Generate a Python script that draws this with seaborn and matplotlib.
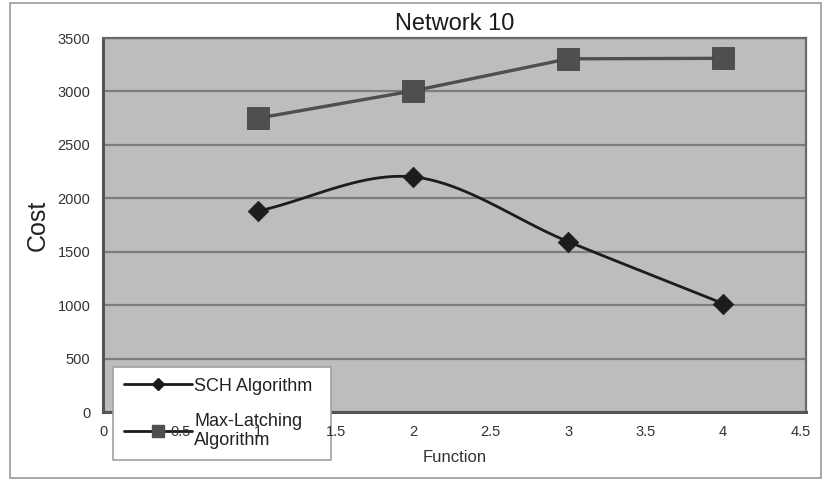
import numpy as np
import pandas as pd
import matplotlib
matplotlib.use("Agg")
import matplotlib.pyplot as plt
from matplotlib.patches import Rectangle
from matplotlib.lines import Line2D
import seaborn as sns

# Data
functions = [1, 2, 3, 4]
sch_cost = [1880, 2200, 1595, 1015]
maxlatch_cost = [2750, 3005, 3305, 3310]
series_names = ["SCH Algorithm", "Max-Latching\nAlgorithm"]
x_ticks = [0, 0.5, 1, 1.5, 2, 2.5, 3, 3.5, 4, 4.5]
y_ticks = [0, 500, 1000, 1500, 2000, 2500, 3000, 3500]


def smooth_curve(xs, ys, n=40):
    """Catmull-Rom style smoothing through the given points."""
    xs = np.asarray(xs, float)
    ys = np.asarray(ys, float)
    px = np.concatenate([[2 * xs[0] - xs[1]], xs, [2 * xs[-1] - xs[-2]]])
    py = np.concatenate([[2 * ys[0] - ys[1]], ys, [2 * ys[-1] - ys[-2]]])
    out_x, out_y = [], []
    t = np.linspace(0, 1, n)
    for i in range(1, len(px) - 2):
        p0, p1, p2, p3 = (np.array([px[j], py[j]]) for j in range(i - 1, i + 3))
        c1 = p1 + (p2 - p0) / 6
        c2 = p2 - (p3 - p1) / 6
        pts = ((1 - t) ** 3)[:, None] * p1 + (3 * (1 - t) ** 2 * t)[:, None] * c1 \
            + (3 * (1 - t) * t ** 2)[:, None] * c2 + (t ** 3)[:, None] * p2
        out_x.extend(pts[:, 0])
        out_y.extend(pts[:, 1])
    return np.array(out_x), np.array(out_y)


sns.set_theme(style="white")
plt.rcParams["font.family"] = ["Liberation Sans", "DejaVu Sans"]

fig = plt.figure(figsize=(8.24, 4.8), dpi=100)
rect = [103 / 824, 1 - 412 / 480, (806 - 103) / 824, (412 - 38) / 480]
ax = fig.add_axes(rect)
ax.set_facecolor("#bdbdbd")

# outer chart frame
fig.patches.append(Rectangle((10 / 824, 2 / 480), 811 / 824, 475 / 480,
                             transform=fig.transFigure, fill=False,
                             edgecolor="#9a9a9a", linewidth=1.2))

sch_col = "#1c1c1c"
ml_col = "#4f4f4f"
xlim = (0, 4.535)

sx, sy = smooth_curve(functions, sch_cost)
sns.lineplot(x=sx, y=sy, ax=ax, color=sch_col, linewidth=2.0, sort=False,
             estimator=None, zorder=3)
sns.lineplot(x=functions, y=maxlatch_cost, ax=ax, color=ml_col, linewidth=2.4,
             sort=False, estimator=None, zorder=3)
sns.scatterplot(x=functions, y=sch_cost, ax=ax, marker="D", s=110,
                color=sch_col, edgecolor=sch_col, linewidth=0.5, zorder=4)
sns.scatterplot(x=functions, y=maxlatch_cost, ax=ax, marker="s", s=240,
                color=ml_col, edgecolor="#3a3a3a", linewidth=0.5, zorder=4)

ax.set_xlim(*xlim)
ax.set_ylim(0, 3500)
ax.set_xticks(x_ticks)
ax.set_yticks(y_ticks)
ax.set_yticklabels([str(v) for v in y_ticks])
ax.yaxis.grid(True, color="#7d7d7d", linewidth=1.6)
ax.xaxis.grid(False)
ax.set_axisbelow(True)
ax.tick_params(axis="both", labelsize=10.5, labelcolor="#333333", length=0, pad=9)
ax.tick_params(axis="x", labelbottom=False)

for side in ["left", "bottom"]:
    ax.spines[side].set_color("#555555")
    ax.spines[side].set_linewidth(2.2)
for side in ["top", "right"]:
    ax.spines[side].set_color("#6a6a6a")
    ax.spines[side].set_linewidth(1.6)

ax.set_title("Network 10", fontsize=17, color="#1a1a1a", pad=6)
ax.set_ylabel("Cost", fontsize=18, color="#222222", labelpad=6)

# x tick labels and axis title on a transparent layer above the legend box
ax_top = fig.add_axes(rect, zorder=10)
ax_top.patch.set_visible(False)
for s in ax_top.spines.values():
    s.set_visible(False)
ax_top.set_xlim(*xlim)
ax_top.set_xticks(x_ticks)
ax_top.set_xticklabels([f"{v:g}" for v in x_ticks])
ax_top.set_yticks([])
ax_top.tick_params(axis="x", labelsize=10.5, labelcolor="#333333", length=0, pad=9)
ax_top.set_xlabel("Function", fontsize=12, color="#333333", labelpad=8)

handles = [
    Line2D([], [], color=sch_col, linewidth=2, marker="D", markersize=6),
    Line2D([], [], color=sch_col, linewidth=2, marker="s", markersize=8,
           markerfacecolor=ml_col, markeredgecolor=ml_col),
]
leg = fig.legend(handles, series_names, loc="lower left",
                 bbox_to_anchor=(113 / 824, 1 - 460 / 480, (331 - 113) / 824, (460 - 355) / 480),
                 mode="expand", frameon=True, fancybox=False, fontsize=13,
                 handlelength=3.8, handletextpad=0.1, labelspacing=1.0,
                 borderpad=0.6, borderaxespad=0, framealpha=1.0)
leg.get_frame().set_facecolor("white")
leg.get_frame().set_edgecolor("#a0a0a0")
leg.get_frame().set_linewidth(1.2)
for t in leg.get_texts():
    t.set_color("#222222")

fig.savefig("out.png", dpi=100)
